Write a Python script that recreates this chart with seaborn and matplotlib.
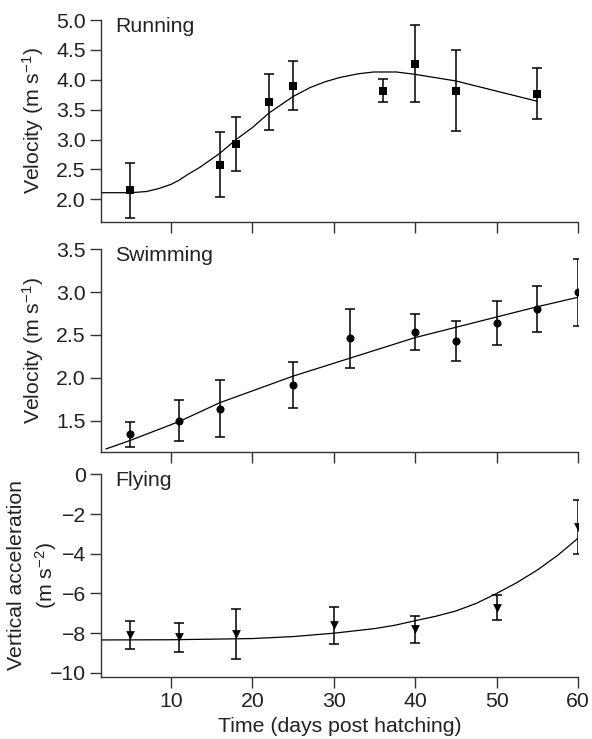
import matplotlib
matplotlib.use("Agg")
import matplotlib.pyplot as plt
import seaborn as sns
import pandas as pd

# ---- data ----
run_days = [5, 16, 18, 22, 25, 36, 40, 45, 55]
run_vel = [2.15, 2.58, 2.92, 3.63, 3.90, 3.82, 4.27, 3.82, 3.77]
run_err = [0.46, 0.54, 0.45, 0.47, 0.41, 0.19, 0.65, 0.68, 0.43]
run_fit_days = [1.4, 5, 7, 8.5, 10, 11, 12, 13.6, 16, 18, 20, 22, 25, 27.1, 29, 30.8,
                33, 34.9, 37.7, 40, 45, 50, 55]
run_fit_vals = [2.11, 2.11, 2.13, 2.18, 2.25, 2.32, 2.41, 2.54, 2.77, 3.0, 3.2, 3.44, 3.72,
                3.87, 3.97, 4.04, 4.10, 4.13, 4.13, 4.09, 3.98, 3.81, 3.64]

swim_days = [5, 11, 16, 25, 32, 40, 45, 50, 55, 60]
swim_vel = [1.34, 1.50, 1.64, 1.92, 2.46, 2.54, 2.43, 2.64, 2.80, 3.00]
swim_err = [0.145, 0.24, 0.33, 0.27, 0.34, 0.21, 0.23, 0.26, 0.27, 0.39]
swim_fit_days = [2, 5, 11, 16, 25, 32, 40, 45, 50, 55, 60]
swim_fit_vals = [1.17, 1.27, 1.49, 1.71, 2.02, 2.23, 2.47, 2.59, 2.71, 2.83, 2.94]

fly_days = [5, 11, 18, 30, 40, 50, 60]
fly_acc = [-8.1, -8.2, -8.05, -7.6, -7.8, -6.72, -2.65]
fly_err = [0.7, 0.73, 1.25, 0.93, 0.69, 0.62, 1.36]
fly_fit_days = [1.4, 10, 20, 25, 30, 35, 37.5, 40, 42.5, 45, 47.5, 50, 52.5, 55, 57.5, 60]
fly_fit_vals = [-8.34, -8.33, -8.27, -8.17, -8.0, -7.77, -7.6, -7.37, -7.15, -6.88,
                -6.5, -6.0, -5.45, -4.82, -4.08, -3.22]

panel_titles = ["Running", "Swimming", "Flying"]
x_ticks = [10, 20, 30, 40, 50, 60]

# ---- style ----
sns.set_style("ticks")
plt.rcParams["font.family"] = ["Liberation Sans", "DejaVu Sans"]
plt.rcParams["mathtext.fontset"] = "custom"
plt.rcParams["mathtext.rm"] = "Liberation Sans"
plt.rcParams["mathtext.it"] = "Liberation Sans:italic"
plt.rcParams["mathtext.bf"] = "Liberation Sans:bold"
plt.rcParams["mathtext.default"] = "regular"

FS = 15.3
TXT = "#222222"

fig = plt.figure(figsize=(5.92, 7.39), dpi=100)
L, W = 101 / 592, 477 / 592
ax_run = fig.add_axes([L, 1 - 221.7 / 739, W, 201.7 / 739])
ax_swim = fig.add_axes([L, 1 - 451.7 / 739, W, 202.4 / 739])
ax_fly = fig.add_axes([L, 1 - 676.7 / 739, W, 202.4 / 739])

panels = [
    (ax_run, run_days, run_vel, run_err, run_fit_days, run_fit_vals, "s", 6,
     (1.625, 5.0), [2.0, 2.5, 3.0, 3.5, 4.0, 4.5, 5.0], "%.1f", r"Velocity (m s$^{-1}$)"),
    (ax_swim, swim_days, swim_vel, swim_err, swim_fit_days, swim_fit_vals, "o", 5.8,
     (1.138, 3.5), [1.5, 2.0, 2.5, 3.0, 3.5], "%.1f", r"Velocity (m s$^{-1}$)"),
    (ax_fly, fly_days, fly_acc, fly_err, fly_fit_days, fly_fit_vals, "v", 6.3,
     (-10.19, 0), [-10, -8, -6, -4, -2, 0], "%d", "Vertical acceleration\n" + r"(m s$^{-2}$)"),
]

for i, (ax, xd, yd, ed, fx, fy, mk, ms, ylim, yt, fmt, ylab) in enumerate(panels):
    fit_df = pd.DataFrame({"day": fx, "val": fy})
    sns.lineplot(data=fit_df, x="day", y="val", ax=ax, color="black", linewidth=0.9,
                 sort=True, estimator=None)
    ax.errorbar(xd, yd, yerr=ed, fmt="none", ecolor="black", elinewidth=1.1,
                capsize=3.5, capthick=1.1, zorder=3)
    pts = pd.DataFrame({"day": xd, "val": yd})
    sns.scatterplot(data=pts, x="day", y="val", ax=ax, marker=mk, s=ms ** 2,
                    color="black", edgecolor="black", linewidth=0, zorder=4)
    ax.set_xlim(1.4, 60)
    ax.set_ylim(*ylim)
    ax.set_xticks(x_ticks)
    ax.set_yticks(yt)
    ax.set_yticklabels([(fmt % v).replace("-", "\u2212") for v in yt])
    for s in ["top", "right"]:
        ax.spines[s].set_visible(False)
    for s in ["left", "bottom"]:
        ax.spines[s].set_linewidth(1.0)
        ax.spines[s].set_color("#333333")
    ax.tick_params(direction="out", length=8, width=1.0, color="#333333",
                   labelsize=FS, labelcolor=TXT, pad=3)
    ax.set_ylabel(ylab, fontsize=FS, color=TXT, linespacing=1.35, va="center",
                  ha="center", multialignment="center")
    ax.yaxis.set_label_coords(-0.142, 0.5)
    ax.text(0.029, 0.94, panel_titles[i], transform=ax.transAxes, fontsize=FS,
            color=TXT, ha="left", va="baseline")
    if i < 2:
        ax.set_xticklabels([])
        ax.set_xlabel("")
    else:
        ax.set_xticklabels([str(t) for t in x_ticks])
        ax.set_xlabel("Time (days post hatching)", fontsize=FS, color=TXT, labelpad=4)

fig.savefig("out.png", dpi=100)
